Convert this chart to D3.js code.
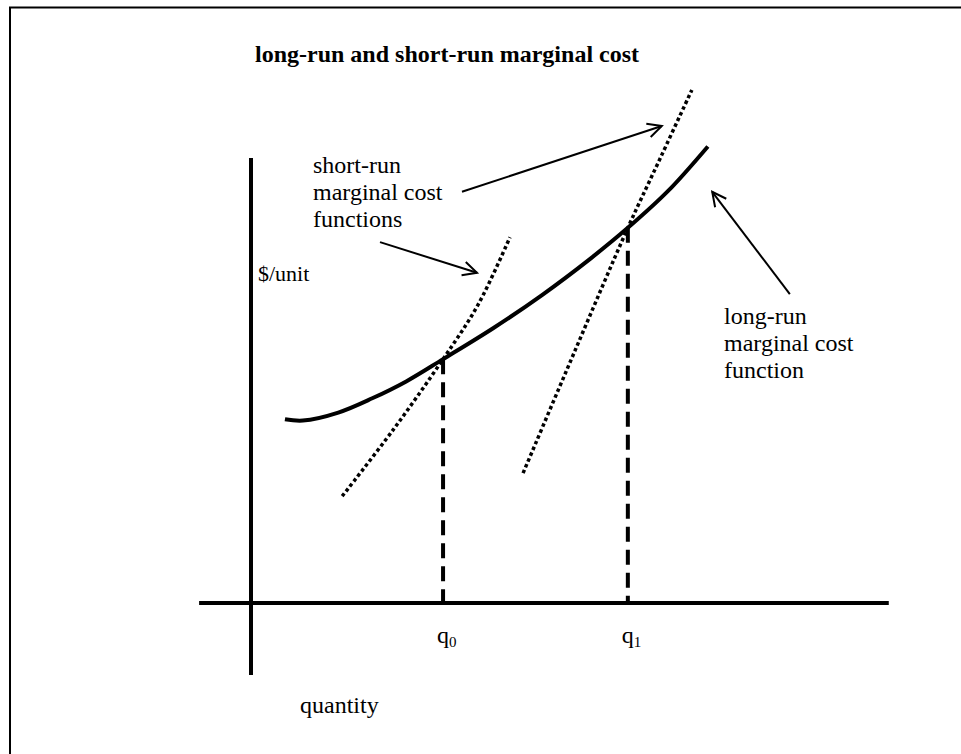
<!DOCTYPE html>
<html>
<head>
<meta charset="utf-8">
<script src="https://cdn.jsdelivr.net/npm/d3@7"></script>
<style>
  body { margin: 0; background: #fff; }
  text { font-family: "Liberation Serif", "Times New Roman", serif; fill: #000; }
</style>
</head>
<body>
<script>
// quantity / price pairs (arbitrary units)
var longRunMC = [[0.70, 4.13], [1.07, 4.10], [1.8, 4.28], [2.5, 4.6], [3.2, 4.98], [3.96, 5.48],
                 [5.0, 6.18], [6.0, 6.92], [7.0, 7.74], [7.77, 8.43], [8.6, 9.26], [9.42, 10.26]];
var shortRunMC0 = [[1.88, 2.40], [2.93, 3.89], [3.96, 5.48], [4.68, 6.70], [5.34, 8.22]];
var shortRunMC1 = [[5.61, 2.92], [6.68, 5.67], [7.77, 8.43], [8.47, 10.07], [9.09, 11.53]];
var qValues = [3.96, 7.77];
var qNames = ["0", "1"];
var xAxisExtent = [-1.07, 13.15];
var yAxisExtent = [-1.62, 10];
// pointer arrows: [tail, tip]
var pointers = [
  [[2.66, 8.11], [4.66, 7.42]],
  [[4.35, 9.24], [8.47, 10.72]],
  [[11.11, 6.94], [9.51, 9.24]]
];
var srLabel = ["short-run", "marginal cost", "functions"];
var lrLabel = ["long-run", "marginal cost", "function"];

var width = 961,
    height = 754;

var svg = d3.select("body")
    .append("svg")
    .attr("width", width)
    .attr("height", height);

var x = d3.scaleLinear().domain([0, 10]).range([251, 736]);
var y = d3.scaleLinear().domain([0, 10]).range([603, 158]);

//frame (left and top only)
svg.append("path")
    .attr("d", "M10," + height + "V7.5H" + width)
    .attr("fill", "none")
    .attr("stroke", "#000")
    .attr("stroke-width", 2);

svg.append("defs").append("marker")
    .attr("id", "head")
    .attr("markerUnits", "userSpaceOnUse")
    .attr("viewBox", "-16 -9 18 18")
    .attr("markerWidth", 18)
    .attr("markerHeight", 18)
    .attr("refX", 0)
    .attr("refY", 0)
    .attr("orient", "auto")
    .append("path")
    .attr("d", "M-14,-7L0,0L-14,7")
    .attr("fill", "none")
    .attr("stroke", "#000")
    .attr("stroke-width", 2);

//axes
svg.append("line")
    .attr("x1", x(xAxisExtent[0])).attr("x2", x(xAxisExtent[1]))
    .attr("y1", y(0)).attr("y2", y(0))
    .attr("stroke", "#000").attr("stroke-width", 4);
svg.append("line")
    .attr("x1", x(0)).attr("x2", x(0))
    .attr("y1", y(yAxisExtent[0])).attr("y2", y(yAxisExtent[1]))
    .attr("stroke", "#000").attr("stroke-width", 4);

var line = d3.line()
    .x(function(d){ return x(d[0]); })
    .y(function(d){ return y(d[1]); })
    .curve(d3.curveCatmullRom);

//dashed drop lines
var lrAt = function(q){
    var p = longRunMC.find(function(d){ return d[0] === q; });
    return p[1];
};
svg.selectAll(".drop")
    .data(qValues)
    .enter()
    .append("line")
    .attr("class", "drop")
    .attr("x1", function(d){ return x(d); })
    .attr("x2", function(d){ return x(d); })
    .attr("y1", function(d){ return y(lrAt(d)); })
    .attr("y2", y(0))
    .attr("stroke", "#000")
    .attr("stroke-width", 4)
    .attr("stroke-dasharray", "15,8");

//short-run curves (dotted)
svg.selectAll(".sr")
    .data([shortRunMC0, shortRunMC1])
    .enter()
    .append("path")
    .attr("class", "sr")
    .attr("d", line)
    .attr("fill", "none")
    .attr("stroke", "#000")
    .attr("stroke-width", 3.5)
    .attr("stroke-dasharray", "3.5,2.8");

//long-run curve
svg.append("path")
    .datum(longRunMC)
    .attr("d", line)
    .attr("fill", "none")
    .attr("stroke", "#000")
    .attr("stroke-width", 4);

//pointer arrows
svg.selectAll(".ptr")
    .data(pointers)
    .enter()
    .append("line")
    .attr("class", "ptr")
    .attr("x1", function(d){ return x(d[0][0]); })
    .attr("y1", function(d){ return y(d[0][1]); })
    .attr("x2", function(d){ return x(d[1][0]); })
    .attr("y2", function(d){ return y(d[1][1]); })
    .attr("stroke", "#000")
    .attr("stroke-width", 2)
    .attr("marker-end", "url(#head)");

//texts
svg.append("text")
    .attr("x", 255).attr("y", 62)
    .attr("font-size", 24)
    .attr("font-weight", "bold")
    .text("long-run and short-run marginal cost");

svg.append("text")
    .attr("x", 258).attr("y", 281)
    .attr("font-size", 22)
    .text("$/unit");

svg.append("text")
    .attr("x", 300).attr("y", 713)
    .attr("font-size", 24)
    .text("quantity");

var block = function(lines, px, py){
    svg.append("text")
        .attr("font-size", 24)
        .selectAll("tspan")
        .data(lines)
        .enter()
        .append("tspan")
        .attr("x", px)
        .attr("y", function(d, i){ return py + i * 27; })
        .text(function(d){ return d; });
};
block(srLabel, 313, 173);
block(lrLabel, 724, 324);

var qt = svg.selectAll(".qlab")
    .data(qValues)
    .enter()
    .append("text")
    .attr("class", "qlab")
    .attr("x", function(d){ return x(d) - 6; })
    .attr("y", 643)
    .attr("font-size", 24);
qt.append("tspan").text("q");
qt.append("tspan")
    .attr("font-size", 15)
    .attr("dy", 4)
    .text(function(d, i){ return qNames[i]; });
</script>
</body>
</html>
